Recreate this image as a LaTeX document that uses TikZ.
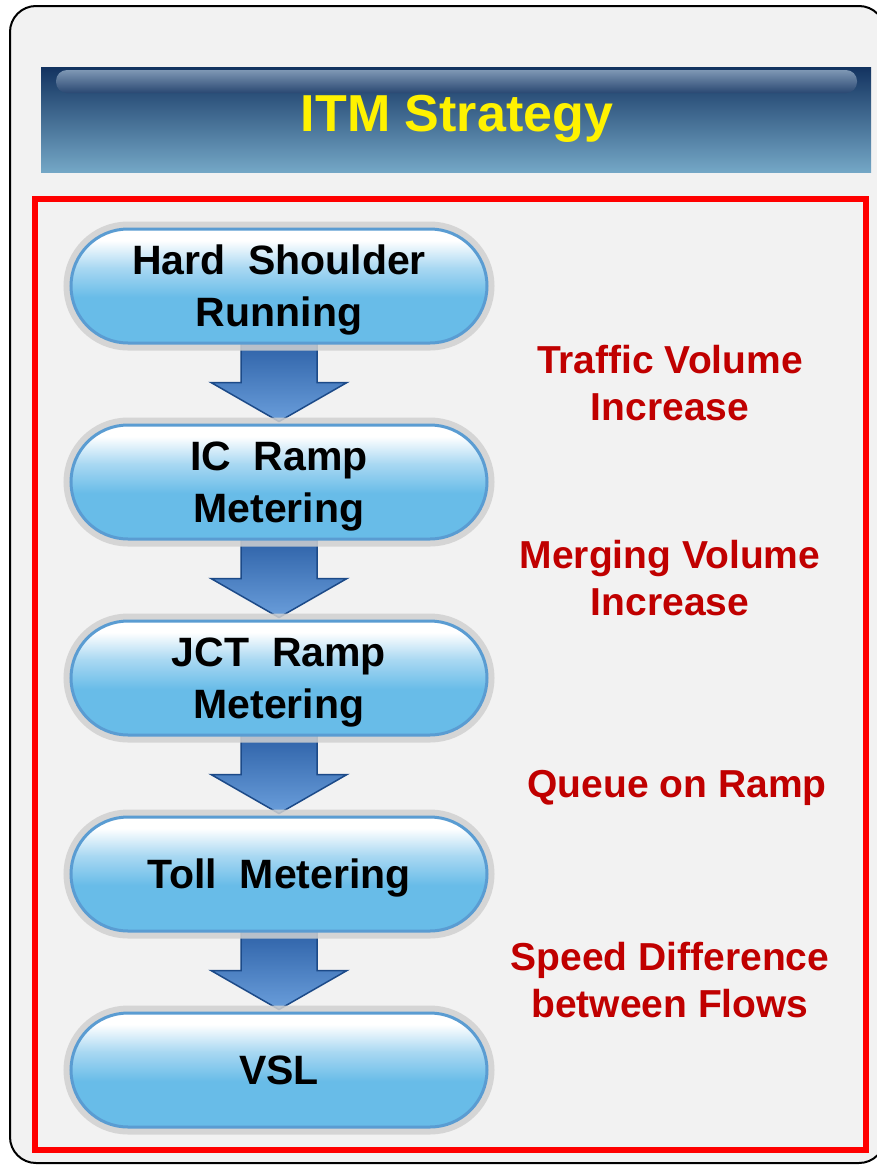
\documentclass[tikz,border=0pt]{standalone}
\usepackage{fontspec}
\setmainfont{Liberation Sans}
\usetikzlibrary{calc}
\definecolor{framegray}{HTML}{F2F2F2}
\definecolor{halogray}{HTML}{D0D0D0}
\definecolor{pillblue}{HTML}{68BCE8}
\definecolor{pillmid}{HTML}{A9D8F2}
\definecolor{pillrim}{HTML}{5A9CD2}
\definecolor{navytop}{HTML}{133360}
\definecolor{navybot}{HTML}{74A7C6}
\definecolor{glosstop}{HTML}{7E97B4}
\definecolor{glossbot}{HTML}{2A4872}
\definecolor{arrowtop}{HTML}{265AA1}
\definecolor{arrowbot}{HTML}{6A9EDB}
\definecolor{arrowrim}{HTML}{1C4A88}
\definecolor{darkred}{HTML}{C00000}
\pgfdeclareverticalshading{pillshade}{100bp}{color(0bp)=(pillblue); color(25bp)=(pillblue); color(45bp)=(pillblue); color(58bp)=(pillmid); color(70bp)=(white); color(100bp)=(white)}
\pgfdeclarelayer{back}
\pgfdeclarelayer{mid}
\pgfsetlayers{back,mid,main}
\tikzstyle{pill} = [rectangle, rounded corners=57pt, minimum width=416pt,
minimum height=114pt, inner sep=0pt, align=center, text depth=0pt,
shade, shading=pillshade, draw=pillrim, line width=3pt,
preaction={draw=halogray, line width=15pt, draw opacity=0.85},
font=\fontsize{41}{52}\selectfont\bfseries]
\tikzstyle{effect} = [align=center, text=darkred, inner sep=0pt,
font=\fontsize{39}{47}\selectfont\bfseries]
\tikzstyle{flowarrow} = [top color=arrowtop, bottom color=arrowbot,
draw=arrowrim, line width=1.5pt, line join=miter]
% block arrow from one pill down to the next
\newcommand{\flowarrow}[2]{%
\path[flowarrow] ($(#1.south)+(-38,-12)$) -- ($(#2.north)+(-38,-41)$)
  -- ($(#2.north)+(-68,-41)$) -- ($(#2.north)+(0,-2)$)
  -- ($(#2.north)+(68,-41)$) -- ($(#2.north)+(38,-41)$)
  -- ($(#1.south)+(38,-12)$) -- cycle;}

\begin{document}
\begin{tikzpicture}[x=1pt, y=-1pt, node distance=196pt]
\useasboundingbox (0,0) rectangle (877,1165);
\begin{pgfonlayer}{back}
\draw[fill=framegray, line width=2pt, rounded corners=26pt] (10,6) rectangle (885,1163);
\shade[top color=navytop, bottom color=navybot] (41,67) rectangle (871,172);
\shade[top color=glosstop, bottom color=glossbot, rounded corners=11pt] (56,70) rectangle (857,93);
\draw[red, line width=6pt] (35,199) rectangle (866,1150);
\end{pgfonlayer}
\node[text=yellow, font=\fontsize{52}{62}\selectfont\bfseries, anchor=base] (title) at (457,131) {ITM Strategy};

\node[pill] (hsr) at (279,286) {Hard\ \ Shoulder\\Running};
\node[pill, below of=hsr] (icrm) {IC\ \ Ramp\\Metering};
\node[pill, below of=icrm] (jctrm) {JCT\ \ Ramp\\Metering};
\node[pill, below of=jctrm] (tollm) {Toll\ \ Metering};
\node[pill, below of=tollm] (vsl) {VSL};

\node[effect] (lblvol) at (670,383) {Traffic Volume\\Increase};
\node[effect] (lblmerge) at (670,578) {Merging Volume\\Increase};
\node[effect, anchor=base] (lblqueue) at (677,797) {Queue on Ramp};
\node[effect] (lblspeed) at (670,980) {Speed Difference\\between Flows};

\begin{pgfonlayer}{mid}
\flowarrow{hsr}{icrm}
\flowarrow{icrm}{jctrm}
\flowarrow{jctrm}{tollm}
\flowarrow{tollm}{vsl}
\end{pgfonlayer}
\end{tikzpicture}
\end{document}
